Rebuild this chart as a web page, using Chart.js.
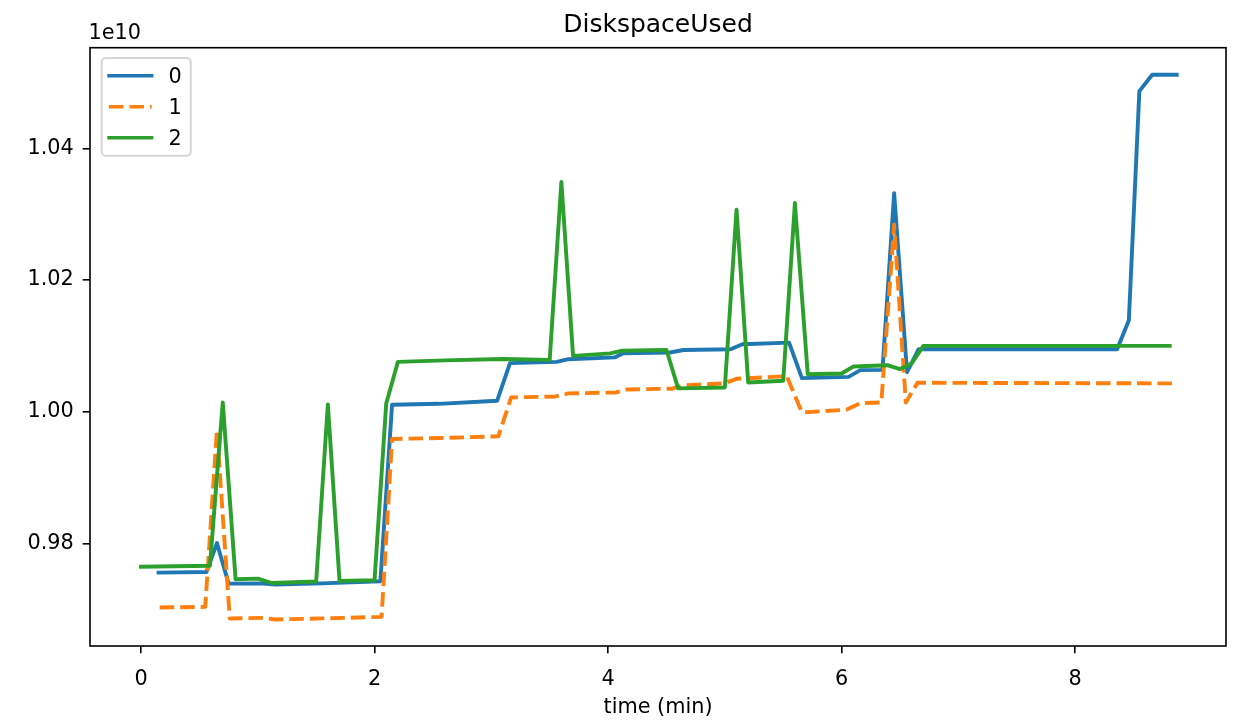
<!DOCTYPE html>
<html>
<head>
<meta charset="utf-8">
<script src="https://cdn.jsdelivr.net/npm/chart.js@4.4.0/dist/chart.umd.min.js"></script>
<style>
  html, body { margin: 0; padding: 0; background: #ffffff; }
  #wrap { width: 1243px; height: 725px; }
</style>
</head>
<body>
<div id="wrap"><canvas id="c" width="1243" height="725"></canvas></div>
<script>
// ---- data (values in units of 1e10 bytes, time in minutes) ----
const SERIES_NAMES = ['0', '1', '2'];
const T0 = [0.15, 0.56, 0.65, 0.75, 1.05, 1.15, 1.55, 2.05, 2.15, 2.55, 3.05, 3.16, 3.56, 3.66, 4.06, 4.13, 4.53, 4.645, 5.05, 5.15, 5.55, 5.66, 6.06, 6.16, 6.35, 6.45, 6.56, 6.66, 8.36, 8.46, 8.55, 8.66, 8.87];
const V0 = [0.97556, 0.97565, 0.98005, 0.97389, 0.97390, 0.97374, 0.97392, 0.97424, 1.00106, 1.00120, 1.00167, 1.00738, 1.00758, 1.00798, 1.00826, 1.00887, 1.00900, 1.00937, 1.00950, 1.01026, 1.01050, 1.00510, 1.00530, 1.00632, 1.00636, 1.03320, 1.00600, 1.00950, 1.00950, 1.01390, 1.04870, 1.05120, 1.05120];
const T1 = [0.16, 0.55, 0.65, 0.76, 1.05, 1.15, 1.55, 2.06, 2.15, 2.55, 3.06, 3.17, 3.55, 3.66, 4.07, 4.16, 4.55, 4.645, 4.99, 5.10, 5.53, 5.66, 6.04, 6.16, 6.34, 6.45, 6.55, 6.65, 8.84];
const V1 = [0.97026, 0.97035, 0.99723, 0.96859, 0.96868, 0.96844, 0.96860, 0.96883, 0.99586, 0.99600, 0.99626, 1.00217, 1.00232, 1.00278, 1.00293, 1.00338, 1.00350, 1.00400, 1.00430, 1.00500, 1.00540, 0.99990, 1.00030, 1.00130, 1.00140, 1.02840, 1.00140, 1.00440, 1.00430];
const T2 = [0.00, 0.59, 0.70, 0.81, 1.00, 1.12, 1.50, 1.60, 1.70, 2.00, 2.10, 2.20, 2.60, 3.10, 3.50, 3.60, 3.70, 4.02, 4.12, 4.50, 4.60, 5.00, 5.10, 5.20, 5.50, 5.60, 5.71, 6.00, 6.10, 6.39, 6.50, 6.60, 6.70, 8.81];
const V2 = [0.97645, 0.97660, 1.00140, 0.97455, 0.97465, 0.97398, 0.97420, 1.00110, 0.97429, 0.97440, 1.00126, 1.00758, 1.00780, 1.00800, 1.00788, 1.03490, 1.00848, 1.00887, 1.00927, 1.00937, 1.00355, 1.00369, 1.03070, 1.00444, 1.00470, 1.03170, 1.00570, 1.00580, 1.00686, 1.00707, 1.00647, 1.00732, 1.01000, 1.01000];
const X_TICKS = [0, 2, 4, 6, 8];
const Y_TICKS = [0.98, 1.00, 1.02, 1.04];
const TITLE = 'DiskspaceUsed';
const X_LABEL = 'time (min)';
const OFFSET_LABEL = '1e10';

const COLORS = ['#1f77b4', '#ff7f0e', '#2ca02c'];
const FONT = '"DejaVu Sans", "Liberation Sans", sans-serif';
const LW = 3.9;
const DASH = [14.5, 6];

function pts(T, V) { return T.map((t, i) => ({ x: t, y: V[i] })); }

const PLOT = { left: 90, top: 47.7, right: 1226, bottom: 646 };

const decor = {
  id: 'decor',
  afterDatasetsDraw(chart) {
    const ctx = chart.ctx;
    const a = chart.chartArea;
    ctx.save();
    // spines
    ctx.strokeStyle = '#000';
    ctx.lineWidth = 1.6;
    ctx.strokeRect(a.left, a.top, a.right - a.left, a.bottom - a.top);
    // title
    ctx.fillStyle = '#000';
    ctx.font = '25px ' + FONT;
    ctx.textAlign = 'center';
    ctx.textBaseline = 'alphabetic';
    ctx.fillText(TITLE, (a.left + a.right) / 2, 31.5);
    // offset text
    ctx.font = '20.8px ' + FONT;
    ctx.textAlign = 'left';
    ctx.fillText(OFFSET_LABEL, 88.5, 38.5);
    // legend
    const bx = 101.7, by = 58, bw = 89, bh = 97.7, r = 4;
    ctx.beginPath();
    ctx.moveTo(bx + r, by);
    ctx.lineTo(bx + bw - r, by);
    ctx.arcTo(bx + bw, by, bx + bw, by + r, r);
    ctx.lineTo(bx + bw, by + bh - r);
    ctx.arcTo(bx + bw, by + bh, bx + bw - r, by + bh, r);
    ctx.lineTo(bx + r, by + bh);
    ctx.arcTo(bx, by + bh, bx, by + bh - r, r);
    ctx.lineTo(bx, by + r);
    ctx.arcTo(bx, by, bx + r, by, r);
    ctx.closePath();
    ctx.fillStyle = 'rgba(255,255,255,0.8)';
    ctx.fill();
    ctx.strokeStyle = '#d6d6d6';
    ctx.lineWidth = 2;
    ctx.stroke();
    chart.data.datasets.forEach((ds, i) => {
      const y = 75.7 + i * 31;
      ctx.beginPath();
      ctx.strokeStyle = ds.borderColor;
      ctx.lineWidth = 3.4;
      ctx.setLineDash(ds.borderDash || []);
      ctx.lineCap = ds.borderDash ? 'butt' : 'square';
      ctx.moveTo(109, y);
      ctx.lineTo(151.7, y);
      ctx.stroke();
      ctx.setLineDash([]);
      ctx.fillStyle = '#000';
      ctx.font = '20.8px ' + FONT;
      ctx.textAlign = 'left';
      ctx.textBaseline = 'alphabetic';
      ctx.fillText(ds.label, 168.5, 83.3 + i * 31);
    });
    ctx.restore();
  }
};

const mk = (i, T, V, order) => ({
  label: SERIES_NAMES[i],
  data: pts(T, V),
  borderColor: COLORS[i],
  backgroundColor: COLORS[i],
  borderWidth: LW,
  pointRadius: 0,
  pointHoverRadius: 0,
  tension: 0,
  fill: false,
  borderJoinStyle: 'round',
  borderCapStyle: i === 1 ? 'butt' : 'square',
  borderDash: i === 1 ? DASH : undefined,
  order: order
});

new Chart(document.getElementById('c'), {
  type: 'line',
  data: {
    datasets: [mk(0, T0, V0, 2), mk(1, T1, V1, 1), mk(2, T2, V2, 0)]
  },
  options: {
    responsive: false,
    animation: false,
    devicePixelRatio: 1,
    parsing: true,
    layout: { padding: { left: 0, top: PLOT.top, right: 1243 - PLOT.right, bottom: 0 } },
    plugins: {
      legend: { display: false },
      title: { display: false },
      tooltip: { enabled: false }
    },
    scales: {
      x: {
        type: 'linear',
        min: -0.437,
        max: 9.292,
        afterFit(s) { s.height = 725 - PLOT.bottom; },
        afterBuildTicks(s) { s.ticks = X_TICKS.map(v => ({ value: v })); },
        border: { display: false },
        grid: { display: true, drawOnChartArea: false, drawTicks: true, tickLength: 7.3, color: '#000', lineWidth: 1.6 },
        ticks: {
          color: '#000',
          padding: 14,
          maxRotation: 0,
          font: { family: FONT, size: 20.8 },
          callback: v => String(v)
        },
        title: {
          display: true,
          text: X_LABEL,
          color: '#000',
          font: { family: FONT, size: 20.8 },
          padding: { top: 0, bottom: 5 }
        }
      },
      y: {
        type: 'linear',
        min: 0.96441,
        max: 1.0553,
        afterFit(s) { s.width = PLOT.left; },
        afterBuildTicks(s) { s.ticks = Y_TICKS.map(v => ({ value: v })); },
        border: { display: false },
        grid: { display: true, drawOnChartArea: false, drawTicks: true, tickLength: 7.3, color: '#000', lineWidth: 1.6 },
        ticks: {
          color: '#000',
          padding: 9,
          font: { family: FONT, size: 20.8 },
          callback: v => Number(v).toFixed(2)
        }
      }
    }
  },
  plugins: [decor]
});
</script>
</body>
</html>
